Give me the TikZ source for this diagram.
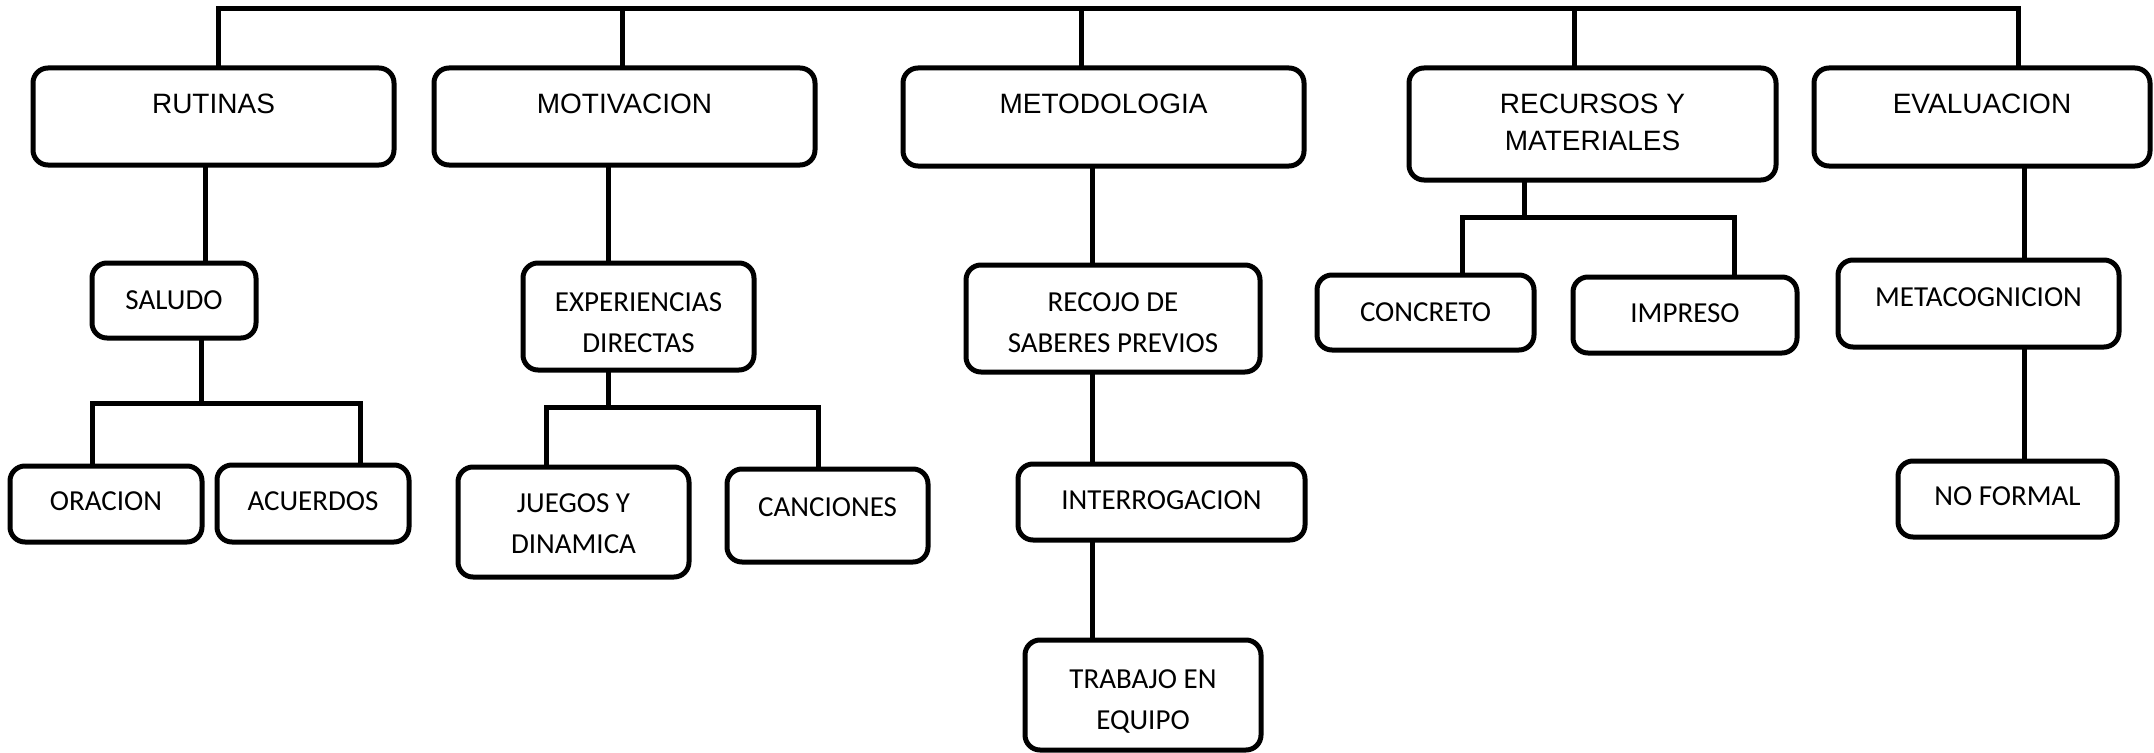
\documentclass[tikz,border=0pt]{standalone}
\usepackage{fontspec}
\setmainfont{Liberation Sans}
\newfontfamily\calib{Carlito}
\newcommand\mlines[1]{\begin{tabular}[t]{@{}c@{}}#1\end{tabular}}
\tikzset{
  box/.style={draw=black, line width=5pt, rounded corners=15pt, anchor=north, inner sep=0pt, outer sep=0pt},
  topbox/.style={box, font=\fontsize{28}{37}\selectfont},
  subbox/.style={box, font=\calib\fontsize{29}{41}\selectfont},
  conn/.style={line width=5pt, line join=miter, draw=black},
}
\begin{document}
\begin{tikzpicture}[x=1pt,y=-1pt]
\useasboundingbox[fill=white] (0,0) rectangle (2154,752);

% top level
\node[topbox, minimum width=361pt, minimum height=97pt, text height=45pt, text depth=52pt] (rut) at (213.5,68) {\mlines{RUTINAS}};
\node[topbox, minimum width=381pt, minimum height=97pt, text height=45pt, text depth=52pt] (mot) at (624.5,68) {\mlines{MOTIVACION}};
\node[topbox, minimum width=401pt, minimum height=98pt, text height=45pt, text depth=53pt] (met) at (1103.5,68) {\mlines{METODOLOGIA}};
\node[topbox, minimum width=367pt, minimum height=112pt, text height=45pt, text depth=67pt] (rec) at (1592.5,68) {\mlines{RECURSOS Y\\MATERIALES}};
\node[topbox, minimum width=336pt, minimum height=98pt, text height=45pt, text depth=53pt] (eva) at (1982,68) {\mlines{EVALUACION}};

% second level
\node[subbox, minimum width=164pt, minimum height=75pt, text height=46pt, text depth=29pt] (sal) at (174,263) {\mlines{SALUDO}};
\node[subbox, minimum width=231pt, minimum height=107pt, text height=48pt, text depth=59pt] (exp) at (638.5,263) {\mlines{EXPERIENCIAS\\DIRECTAS}};
\node[subbox, minimum width=294pt, minimum height=107pt, text height=46pt, text depth=61pt] (rec2) at (1113,265) {\mlines{RECOJO DE\\SABERES PREVIOS}};
\node[subbox, minimum width=217pt, minimum height=75pt, text height=46pt, text depth=29pt] (con) at (1425.5,275) {\mlines{CONCRETO}};
\node[subbox, minimum width=224pt, minimum height=76pt, text height=45pt, text depth=31pt] (imp) at (1685,277) {\mlines{IMPRESO}};
\node[subbox, minimum width=281pt, minimum height=87pt, text height=46pt, text depth=41pt] (meta) at (1978.5,260) {\mlines{METACOGNICION}};

% third level
\node[subbox, minimum width=192pt, minimum height=76pt, text height=44pt, text depth=32pt] (ora) at (106,466) {\mlines{ORACION}};
\node[subbox, minimum width=192pt, minimum height=77pt, text height=45pt, text depth=32pt] (acu) at (313,465) {\mlines{ACUERDOS}};
\node[subbox, minimum width=231pt, minimum height=110pt, text height=45pt, text depth=65pt] (jue) at (573.5,467) {\mlines{JUEGOS Y\\DINAMICA}};
\node[subbox, minimum width=201pt, minimum height=93pt, text height=47pt, text depth=46pt] (can) at (827.5,469) {\mlines{CANCIONES}};
\node[subbox, minimum width=287pt, minimum height=76pt, text height=45pt, text depth=31pt] (int) at (1161.5,464) {\mlines{INTERROGACION}};
\node[subbox, minimum width=236pt, minimum height=110pt, text height=48pt, text depth=62pt] (tra) at (1143,640) {\mlines{TRABAJO EN\\EQUIPO}};
\node[subbox, minimum width=219pt, minimum height=76pt, text height=44pt, text depth=32pt] (nof) at (2007.5,461) {\mlines{NO FORMAL}};

% top bar
\coordinate (bar) at (0,9);
\coordinate (rutT) at ([xshift=4.5pt]rut.north);
\coordinate (motT) at ([xshift=-2.5pt]mot.north);
\coordinate (metT) at ([xshift=-22.5pt]met.north);
\coordinate (recT) at ([xshift=-18.5pt]rec.north);
\coordinate (evaT) at ([xshift=36pt]eva.north);
\draw[conn] (rutT) -- (rutT |- bar) -- (evaT |- bar) -- (evaT);
\draw[conn] (motT) -- (motT |- bar);
\draw[conn] (metT) -- (metT |- bar);
\draw[conn] (recT) -- (recT |- bar);

% RUTINAS branch
\draw[conn] ([xshift=-8.5pt]rut.south) -- ([xshift=31pt]sal.north);
\coordinate (salB) at ([xshift=27pt]sal.south);
\coordinate (salbar) at (0,403);
\coordinate (oraT) at ([xshift=-14pt]ora.north);
\coordinate (acuT) at ([xshift=47pt]acu.north);
\draw[conn] (salB) -- (salB |- salbar);
\draw[conn] (oraT) -- (oraT |- salbar) -- (acuT |- salbar) -- (acuT);

% MOTIVACION branch
\draw[conn] ([xshift=-16.5pt]mot.south) -- ([xshift=-30.5pt]exp.north);
\coordinate (expB) at ([xshift=-30.5pt]exp.south);
\coordinate (expbar) at (0,407);
\coordinate (jueT) at ([xshift=-27.5pt]jue.north);
\coordinate (canT) at ([xshift=-9.5pt]can.north);
\draw[conn] (expB) -- (expB |- expbar);
\draw[conn] (jueT) -- (jueT |- expbar) -- (canT |- expbar) -- (canT);

% METODOLOGIA branch
\draw[conn] ([xshift=-11.5pt]met.south) -- ([xshift=-21pt]rec2.north);
\draw[conn] ([xshift=-21pt]rec2.south) -- ([xshift=-69.5pt]int.north);
\draw[conn] ([xshift=-69.5pt]int.south) -- ([xshift=-51pt]tra.north);

% RECURSOS branch
\coordinate (recB) at ([xshift=-68.5pt]rec.south);
\coordinate (recbar) at (0,217);
\coordinate (conT) at ([xshift=36.5pt]con.north);
\coordinate (impT) at ([xshift=49pt]imp.north);
\draw[conn] (recB) -- (recB |- recbar);
\draw[conn] (conT) -- (conT |- recbar) -- (impT |- recbar) -- (impT);

% EVALUACION branch
\draw[conn] ([xshift=42pt]eva.south) -- ([xshift=45.5pt]meta.north);
\draw[conn] ([xshift=45.5pt]meta.south) -- ([xshift=16.5pt]nof.north);
\end{tikzpicture}
\end{document}
